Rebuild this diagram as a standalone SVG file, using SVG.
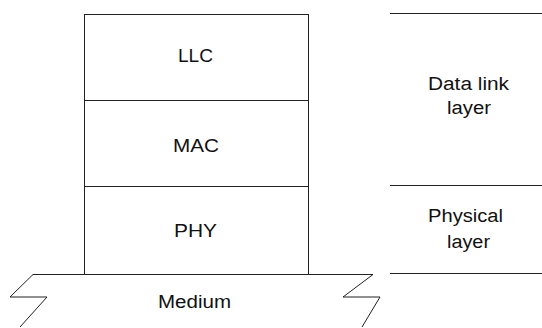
<svg xmlns="http://www.w3.org/2000/svg" width="542" height="328" viewBox="0 0 542 328">
<style>
.ln{fill:none;stroke:#222;stroke-width:1}
.t{font-family:"Liberation Sans",Arial,sans-serif;font-size:18px;fill:#111;text-anchor:start}
</style>
<rect width="542" height="328" fill="#fff"/>
<g id="llc">
<rect class="ln" x="84.5" y="14.5" width="224" height="86"/>
<text class="t" x="178" y="62" textLength="35" lengthAdjust="spacingAndGlyphs">LLC</text>
</g>
<g id="mac">
<rect class="ln" x="84.5" y="100.5" width="224" height="86"/>
<text class="t" x="173" y="152" textLength="46" lengthAdjust="spacingAndGlyphs">MAC</text>
</g>
<g id="phy">
<rect class="ln" x="84.5" y="186.5" width="224" height="88"/>
<text class="t" x="174" y="237" textLength="43" lengthAdjust="spacingAndGlyphs">PHY</text>
</g>
<g id="medium">
<path class="ln" d="M33,274.5 L373,274.5 M33,274.5 L10,297 L47,297 L20,327 M373,274.5 L343,297 L380,297 L362,327"/>
<text class="t" x="158" y="308" textLength="73" lengthAdjust="spacingAndGlyphs">Medium</text>
</g>
<g id="datalink">
<text class="t" x="428" y="90" textLength="81" lengthAdjust="spacingAndGlyphs">Data link</text>
<text class="t" x="447" y="114" textLength="44" lengthAdjust="spacingAndGlyphs">layer</text>
</g>
<g id="physical">
<text class="t" x="428" y="222" textLength="75" lengthAdjust="spacingAndGlyphs">Physical</text>
<text class="t" x="447" y="248" textLength="43" lengthAdjust="spacingAndGlyphs">layer</text>
</g>
<g id="connectors">
<path class="ln" d="M390,13.5 L542,13.5 M390,185.5 L542,185.5 M390,273.5 L542,273.5"/>
</g>
</svg>
